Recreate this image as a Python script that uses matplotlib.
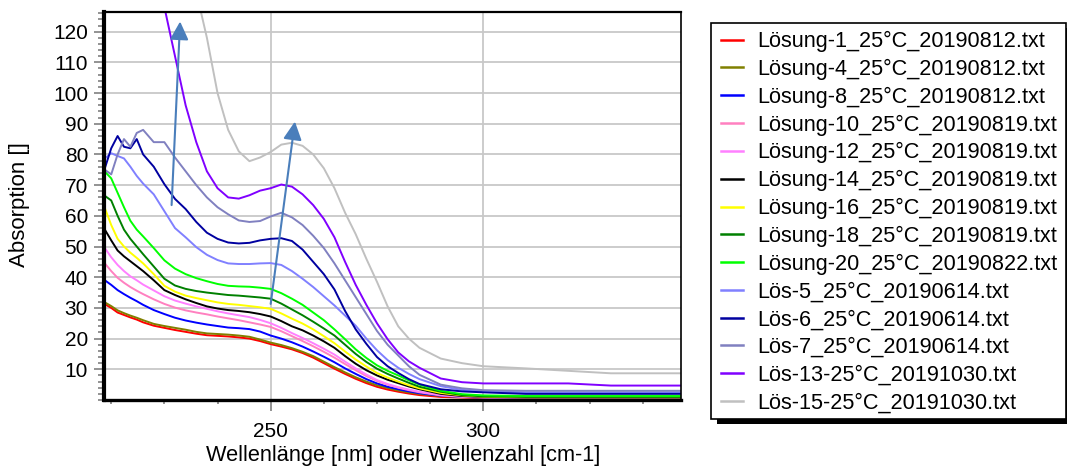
import matplotlib
matplotlib.use("Agg")
import matplotlib.pyplot as plt
from matplotlib.patches import Rectangle
from matplotlib.ticker import FixedLocator, MultipleLocator

plt.rcParams['font.family'] = ['Liberation Sans', 'DejaVu Sans']

# ---------------- data ----------------
wavelength = [211, 212.5, 214, 215.5, 217, 218.5, 220, 222.5, 225, 227.5,
              230, 232.5, 235, 237.5, 240, 242.5, 245, 247.5, 250, 252.5,
              255, 257.5, 260, 262.5, 265, 267.5, 270, 272.5, 275, 277.5,
              280, 282.5, 285, 290, 295, 300, 310, 320, 330, 340, 346.5]

loesung_1 = [31.2, 30.0, 28.5, 27.7, 26.9, 26.2, 25.3, 24.2, 23.5, 22.8,
             22.2, 21.6, 21.1, 20.9, 20.7, 20.4, 20.0, 19.2, 18.2, 17.4,
             16.5, 15.3, 13.8, 12.0, 10.2, 8.5, 6.9, 5.5, 4.3, 3.4,
             2.7, 2.1, 1.6, 1.0, 0.8, 0.6, 0.5, 0.4, 0.2, 0.2, 0.2]
loesung_4 = [31.8, 30.6, 29.2, 28.3, 27.5, 26.8, 26.0, 24.8, 24.1, 23.5,
             22.9, 22.2, 21.7, 21.5, 21.3, 21.0, 20.6, 19.7, 18.7, 17.9,
             16.9, 15.7, 14.3, 12.5, 10.7, 9.0, 7.4, 6.0, 4.8, 3.9,
             3.1, 2.5, 2.0, 1.3, 1.0, 0.9, 0.8, 0.7, 0.7, 0.7, 0.7]
loesung_8 = [39.0, 37.5, 35.8, 34.5, 33.3, 32.2, 31.0, 29.3, 28.0, 26.8,
             25.9, 25.2, 24.6, 24.1, 23.6, 23.4, 23.1, 22.3, 21.0, 20.0,
             18.8, 17.4, 15.8, 14.1, 12.3, 10.3, 8.5, 6.8, 5.4, 4.3,
             3.5, 2.8, 2.2, 1.4, 1.0, 0.8, 0.6, 0.5, 0.5, 0.5, 0.5]
loesung_10 = [44.5, 42.0, 39.8, 38.2, 36.8, 35.6, 34.5, 32.8, 31.3, 30.1,
              29.2, 28.5, 27.9, 27.2, 26.6, 26.0, 25.3, 24.6, 23.8, 22.4,
              20.8, 19.2, 17.5, 15.7, 13.8, 11.7, 9.7, 7.8, 6.2, 5.0,
              4.0, 3.2, 2.5, 1.5, 1.0, 0.8, 0.6, 0.6, 0.6, 0.6, 0.6]
loesung_12 = [49.5, 46.5, 44.0, 42.0, 40.3, 39.0, 37.6, 35.7, 33.8, 32.4,
              31.4, 30.5, 29.7, 28.9, 28.2, 27.6, 27.0, 26.1, 25.0, 23.5,
              21.8, 20.2, 18.5, 16.7, 14.8, 12.5, 10.3, 8.3, 6.5, 5.2,
              4.2, 3.4, 2.7, 1.6, 1.1, 0.9, 0.7, 0.7, 0.7, 0.7, 0.7]
loesung_14 = [55.5, 52.0, 48.7, 46.8, 45.2, 43.6, 42.0, 39.0, 35.8, 34.2,
              32.8, 31.6, 30.5, 29.8, 29.3, 29.0, 28.6, 28.0, 27.2, 25.7,
              24.0, 22.7, 21.0, 19.1, 17.0, 14.3, 11.8, 9.7, 8.0, 6.6,
              5.5, 4.4, 3.5, 2.0, 1.3, 1.0, 0.8, 0.8, 0.8, 0.8, 0.8]
loesung_16 = [62.5, 57.0, 52.5, 50.0, 48.0, 46.3, 44.5, 41.0, 37.2, 35.3,
              34.0, 33.2, 32.5, 31.8, 31.3, 31.0, 30.6, 30.2, 29.7, 28.2,
              26.5, 24.9, 23.0, 20.8, 18.5, 15.8, 13.2, 10.9, 8.8, 7.3,
              6.0, 4.8, 3.8, 2.3, 1.5, 1.1, 0.9, 0.9, 0.9, 0.9, 0.9]
loesung_18 = [66.5, 65.0, 60.0, 55.5, 52.5, 50.0, 47.5, 43.5, 39.5, 37.3,
              36.2, 35.5, 35.0, 34.6, 34.2, 34.0, 33.7, 33.4, 33.0, 31.4,
              29.5, 27.6, 25.5, 23.3, 21.0, 18.0, 15.0, 12.4, 10.2, 8.5,
              7.0, 5.6, 4.3, 2.7, 1.6, 1.2, 1.0, 1.0, 1.0, 1.0, 1.0]
loesung_20 = [74.4, 72.2, 67.5, 62.8, 58.4, 55.5, 53.3, 49.5, 45.5, 42.8,
              41.0, 39.7, 38.7, 37.8, 37.2, 37.0, 36.9, 36.6, 36.2, 34.8,
              33.0, 31.0, 28.5, 26.0, 23.0, 19.8, 16.5, 13.7, 11.3, 9.5,
              8.0, 6.4, 5.0, 3.0, 1.9, 1.5, 1.3, 1.3, 1.3, 1.3, 1.3]
loes_5 = [78.7, 80.4, 79.5, 78.7, 76.0, 73.0, 70.5, 67.0, 61.5, 56.0,
          53.0, 49.8, 47.3, 45.6, 44.5, 44.3, 44.3, 44.5, 44.6, 44.0,
          42.0, 39.5, 36.8, 33.8, 30.8, 27.5, 24.2, 20.0, 16.2, 13.0,
          10.5, 8.5, 6.8, 4.5, 3.3, 2.8, 2.5, 2.5, 2.5, 2.5, 2.5]
loes_6 = [75.5, 82.0, 86.0, 82.5, 82.0, 85.0, 80.0, 76.0, 70.3, 65.5,
          62.2, 58.0, 54.5, 52.5, 51.3, 51.0, 51.2, 52.0, 52.5, 52.7,
          51.8, 49.0, 45.0, 41.0, 36.0, 29.0, 23.0, 18.3, 14.0, 11.0,
          8.8, 6.8, 5.2, 3.5, 2.8, 2.5, 2.0, 2.0, 2.0, 2.0, 2.0]
loes_7 = [75.0, 73.5, 80.0, 85.0, 82.5, 87.0, 88.0, 84.0, 84.0, 79.0,
          74.5, 70.0, 66.0, 62.8, 60.5, 58.5, 58.0, 58.3, 59.8, 61.0,
          59.5, 57.0, 53.5, 49.5, 44.5, 39.0, 33.5, 28.0, 22.5, 18.0,
          14.5, 11.0, 8.2, 5.0, 3.8, 3.2, 3.0, 3.0, 3.0, 3.0, 3.0]
loes_13 = [200.0, 190.0, 180.0, 170.0, 160.0, 150.0, 145.0, 135.0, 128.0, 112.0,
           96.0, 84.0, 74.5, 69.0, 66.0, 65.6, 66.7, 68.2, 69.0, 70.2,
           69.5, 67.0, 63.5, 59.0, 53.0, 45.0, 37.5, 31.0, 25.0, 19.8,
           15.5, 12.6, 10.5, 7.0, 5.8, 5.4, 5.4, 5.4, 4.7, 4.7, 4.7]
loes_15 = [230.0, 225.0, 220.0, 215.0, 210.0, 205.0, 200.0, 190.0, 180.0, 165.0,
           150.0, 133.0, 118.0, 100.0, 88.0, 81.0, 77.8, 79.0, 80.8, 83.2,
           83.8, 82.8, 80.0, 75.5, 69.0, 61.0, 54.0, 46.0, 38.5, 30.5,
           24.0, 20.0, 17.0, 13.5, 12.0, 11.0, 10.3, 9.5, 8.7, 8.7, 8.7]

series_labels = ["Lösung-1_25°C_20190812.txt", "Lösung-4_25°C_20190812.txt",
                 "Lösung-8_25°C_20190812.txt", "Lösung-10_25°C_20190819.txt",
                 "Lösung-12_25°C_20190819.txt", "Lösung-14_25°C_20190819.txt",
                 "Lösung-16_25°C_20190819.txt", "Lösung-18_25°C_20190819.txt",
                 "Lösung-20_25°C_20190822.txt", "Lös-5_25°C_20190614.txt",
                 "Lös-6_25°C_20190614.txt", "Lös-7_25°C_20190614.txt",
                 "Lös-13-25°C_20191030.txt", "Lös-15-25°C_20191030.txt"]
series_values = [loesung_1, loesung_4, loesung_8, loesung_10, loesung_12, loesung_14,
                 loesung_16, loesung_18, loesung_20, loes_5, loes_6, loes_7, loes_13, loes_15]
series_colors = ["#FF0000", "#808000", "#0000FF", "#FF80C0", "#FF80FF", "#000000",
                 "#FFFF00", "#008000", "#00FF00", "#8080FF", "#0000A0", "#8080C0",
                 "#8000FF", "#C0C0C0"]

x_major = [250, 300]
y_major = [10, 20, 30, 40, 50, 60, 70, 80, 90, 100, 110, 120]

# arrows (tail -> head) in data units
arrow_tails = [(226.7, 63.5), (250.0, 31.3)]
arrow_heads = [(228.7, 123.3), (255.7, 90.7)]

# ---------------- figure ----------------
W, H = 1067, 470
fig = plt.figure(figsize=(W / 100, H / 100), dpi=100)
ax = fig.add_axes([104 / W, 1 - 400 / H, (681 - 104) / W, (400 - 12) / H])

lines = []
for vals, lab, col in zip(series_values, series_labels, series_colors):
    ln, = ax.plot(wavelength, vals, color=col, lw=1.4, label=lab)
    lines.append(ln)

for (tx, ty), (hx, hy) in zip(arrow_tails, arrow_heads):
    ax.annotate('', xy=(hx, hy), xytext=(tx, ty),
                arrowprops=dict(arrowstyle='-|>,head_length=0.55,head_width=0.28',
                                color='#4A7EBB', lw=1.5, shrinkA=0, shrinkB=0,
                                mutation_scale=20), zorder=5)

ax.set_xlim(210.8, 346.5)
ax.set_ylim(0, 126.4)

ax.xaxis.set_major_locator(FixedLocator(x_major))
ax.xaxis.set_minor_locator(MultipleLocator(12.5))
ax.yaxis.set_major_locator(FixedLocator(y_major))
ax.yaxis.set_minor_locator(MultipleLocator(2))

ax.grid(True, which='major', color='#C8C8C8', lw=1.3)
ax.set_axisbelow(True)

ax.tick_params(axis='y', which='major', direction='out', length=7, width=1.2,
               color='#808080', labelsize=15, pad=4.5)
ax.tick_params(axis='y', which='minor', direction='out', length=4, width=1.2, color='#808080')
ax.tick_params(axis='x', which='major', direction='out', length=8, width=1.2,
               color='#808080', labelsize=15, pad=7.5)
ax.tick_params(axis='x', which='minor', direction='out', length=3, width=1.2, color='#808080')

ax.spines['left'].set_linewidth(3.0)
ax.spines['bottom'].set_linewidth(2.4)
ax.spines['top'].set_linewidth(1.6)
ax.spines['right'].set_linewidth(1.2)
for s in ax.spines.values():
    s.set_color('black')

fig.text(403.5 / W, 1 - 455 / H, "Wellenlänge [nm] oder Wellenzahl [cm-1]",
         ha='center', va='center', fontsize=15.7)
fig.text(19 / W, 1 - 205 / H, "Absorption []", rotation=90,
         ha='center', va='center', fontsize=16)

# legend box with shadow
def px_rect(x0, y0, x1, y1, **kw):
    return Rectangle((x0 / W, 1 - y1 / H), (x1 - x0) / W, (y1 - y0) / H,
                     transform=fig.transFigure, figure=fig, **kw)

fig.patches.append(px_rect(717, 28, 1072, 424, facecolor='black', edgecolor='none', zorder=1))
fig.patches.append(px_rect(711, 23, 1066, 419, facecolor='white', edgecolor='black',
                           lw=1.2, zorder=2))

leg = fig.legend(handles=lines, loc='upper left', bbox_to_anchor=(721 / W, 1 - 31 / H),
                 frameon=False, fontsize=15.6, handlelength=1.0, handletextpad=0.68,
                 labelspacing=0.31, borderpad=0, borderaxespad=0)
leg.set_zorder(3)
for h in leg.legend_handles:
    h.set_linewidth(1.8)

fig.savefig("out.png", dpi=100)
